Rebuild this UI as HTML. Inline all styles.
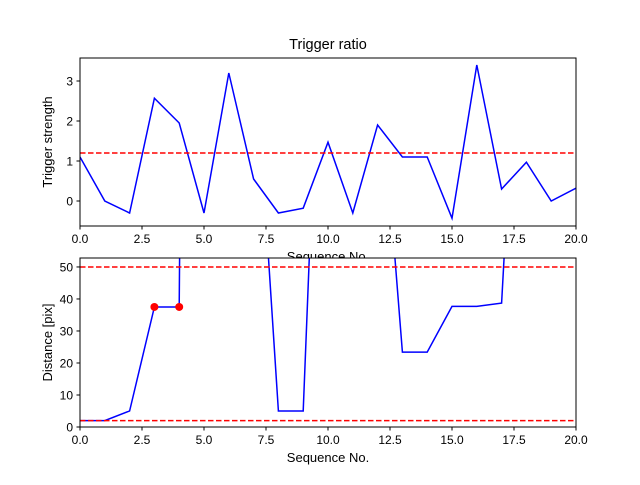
<!DOCTYPE html>
<html><head><meta charset="utf-8"><style>body{margin:0;background:#fff}svg{font-family:"Liberation Sans","DejaVu Sans",sans-serif}</style></head>
<body>
<svg id="c" width="640" height="480" xmlns="http://www.w3.org/2000/svg">
<defs>
<clipPath id="c1"><rect x="80" y="58" width="496" height="168"/></clipPath>
<clipPath id="c2"><rect x="80" y="258" width="496" height="169"/></clipPath>
</defs>
</svg>
<script>
const seq=[0,1,2,3,4,5,6,7,8,9,10,11,12,13,14,15,16,17,18,19,20];
const ratio=[1.1,0,-0.3,2.57,1.95,-0.3,3.2,0.55,-0.3,-0.18,1.47,-0.3,1.9,1.1,1.1,-0.43,3.4,0.3,0.97,0,0.32];
const ratioThreshold=1.2;
const dist=[2,2,5,37.5,37.5,1000,300,124.5,5,5,200,200,121,23.4,23.4,37.7,37.7,38.7,180];
const distThresholds=[50,2];
const markedIdx=[3,4];
const xTicks=[0,2.5,5,7.5,10,12.5,15,17.5,20];
const yTicksTop=[0,1,2,3];
const yTicksBot=[0,10,20,30,40,50];
const NS="http://www.w3.org/2000/svg",svg=document.getElementById('c');
function el(t,a,p){const e=document.createElementNS(NS,t);for(const k in a)e.setAttribute(k,a[k]);(p||svg).appendChild(e);return e;}
const X=v=>80+v*24.8;
const Y1=v=>58+(3.575-v)/4.2*168;
const Y2=v=>258+(52.8-v)/52.8*169;
function axes(top,bot,name){
  const g=el('g',{});
  el('rect',{x:80,y:top,width:496,height:bot-top,fill:'#fff'},g);
  return g;
}
function frame(g,top,bot,Y,yt,ylabel,xlabel,prefix){
  el('rect',{x:80,y:top,width:496,height:bot-top,fill:'none',stroke:'#000','stroke-width':1},g);
  xTicks.forEach(t=>{el('line',{x1:X(t),x2:X(t),y1:bot,y2:bot+3.5,stroke:'#000'},g);
    const s=el('text',{x:X(t),y:bot+17,'text-anchor':'middle','font-size':12},g);s.textContent=t.toFixed(1);
    });
  yt.forEach(t=>{el('line',{x1:80,x2:76.5,y1:Y(t),y2:Y(t),stroke:'#000'},g);
    const s=el('text',{x:73,y:Y(t)+4.5,'text-anchor':'end','font-size':12},g);s.textContent=t;
    });
  const yl=el('text',{transform:`translate(52,${(top+bot)/2}) rotate(-90)`,'text-anchor':'middle','font-size':13},g);yl.textContent=ylabel;
  
  const xl=el('text',{x:328,y:bot+35,'text-anchor':'middle','font-size':13},g);xl.textContent=xlabel;
  
}
const g1=axes(58,226,'trigger-ratio-axes');
const p1=el('polyline',{points:seq.slice(0,ratio.length).map((s,i)=>X(s)+','+Y1(ratio[i])).join(' '),fill:'none',stroke:'#0000ff','stroke-width':1.5,'clip-path':'url(#c1)'},g1);

const h1=el('line',{x1:80,x2:576,y1:Y1(ratioThreshold),y2:Y1(ratioThreshold),stroke:'#ff0000','stroke-width':1.5,'stroke-dasharray':'5.5,2.5'},g1);

frame(g1,58,226,Y1,yTicksTop,'Trigger strength','Sequence No.','top');
const tt=el('text',{x:328,y:49,'text-anchor':'middle','font-size':14.5});tt.textContent='Trigger ratio';

const g2=axes(258,427,'distance-axes');
const p2=el('polyline',{points:dist.map((d,i)=>X(seq[i])+','+Y2(d)).join(' '),fill:'none',stroke:'#0000ff','stroke-width':1.5,'clip-path':'url(#c2)'},g2);

distThresholds.forEach(v=>{const l=el('line',{x1:80,x2:576,y1:Y2(v),y2:Y2(v),stroke:'#ff0000','stroke-width':1.5,'stroke-dasharray':'5.5,2.5'},g2);
  });
markedIdx.forEach(i=>{const c=el('circle',{cx:X(seq[i]),cy:Y2(dist[i]),r:4,fill:'#ff0000'},g2);
  });
frame(g2,258,427,Y2,yTicksBot,'Distance [pix]','Sequence No.','bottom');
</script>
</body></html>
